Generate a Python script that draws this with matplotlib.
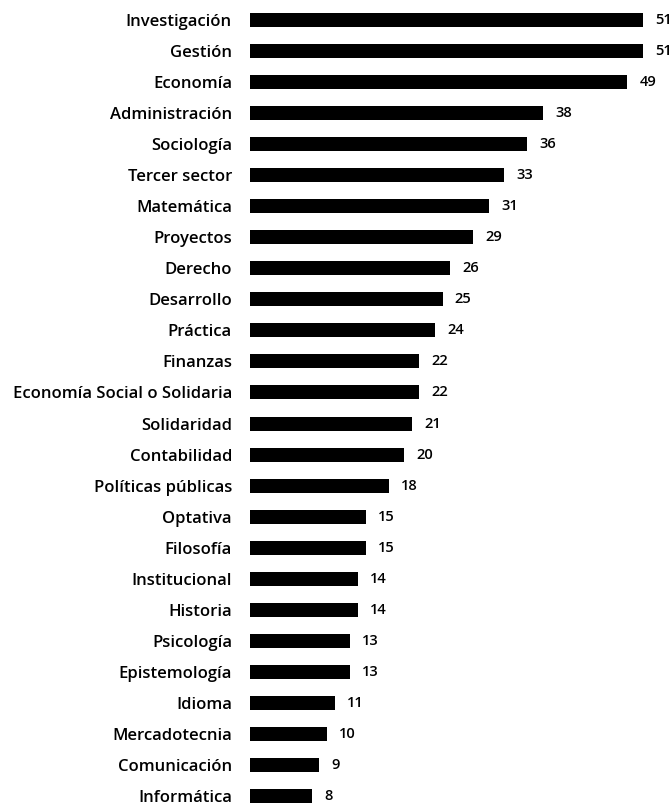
import matplotlib
matplotlib.use("Agg")
import matplotlib.pyplot as plt

categories = [
    "Investigación", "Gestión", "Economía", "Administración", "Sociología",
    "Tercer sector", "Matemática", "Proyectos", "Derecho", "Desarrollo",
    "Práctica", "Finanzas", "Economía Social o Solidaria", "Solidaridad",
    "Contabilidad", "Políticas públicas", "Optativa", "Filosofía",
    "Institucional", "Historia", "Psicología", "Epistemología", "Idioma",
    "Mercadotecnia", "Comunicación", "Informática",
]
values = [51, 51, 49, 38, 36, 33, 31, 29, 26, 25, 24, 22, 22, 21, 20, 18,
          15, 15, 14, 14, 13, 13, 11, 10, 9, 8]

plt.rcParams["font.family"] = ["Open Sans", "DejaVu Sans"]

W, H = 672, 807
fig = plt.figure(figsize=(W / 100, H / 100), dpi=100)
left_px = 250
ax = fig.add_axes([left_px / W, 0, 1 - left_px / W, 1])

pos = list(range(len(categories)))
ax.barh(pos, values, height=0.45, color="black")

px_per_unit = 7.7
ax.set_xlim(0, (W - left_px) / px_per_unit)
first_px, spacing = 20, 31.04
ax.set_ylim(len(categories) - 1 + (H - first_px - spacing * (len(categories) - 1)) / spacing,
            -first_px / spacing)

ax.set_yticks(pos)
ax.set_yticklabels(categories, fontsize=12, fontweight="semibold")
ax.tick_params(axis="y", length=0, pad=13)
ax.set_xticks([])
for s in ax.spines.values():
    s.set_visible(False)

for p, v in zip(pos, values):
    ax.text(v + 1.6, p, str(v), va="center", ha="left",
            fontsize=10.5, fontweight="semibold")

fig.savefig("out.png", dpi=100)
